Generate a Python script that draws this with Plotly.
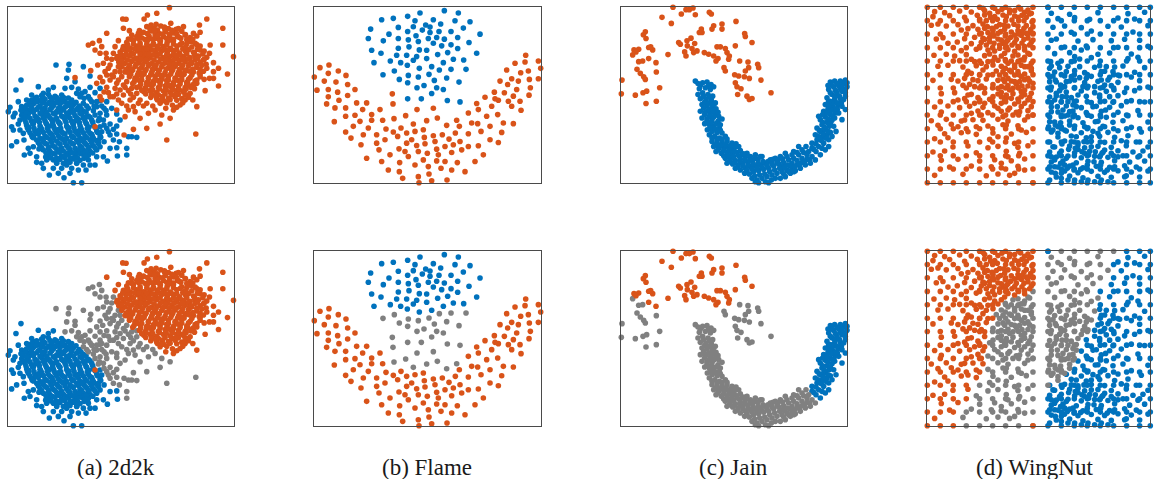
import plotly.graph_objects as go

BLUE = "#0072BD"
ORANGE = "#D95319"
GRAY = "#808080"

# All coordinates (panel-local units, y downward).
# ---------------- 2d2k ----------------
d2k_orange_orange = [
    (508,23),(470,40),(442,45),(432,57),(368,57),(378,58),(620,57),(370,85),(388,92),(453,75),(418,92),(668,85),
    (598,75),(528,88),(600,97),(320,100),(355,122),(385,117),(555,105),(630,135),(668,135),(700,170),(610,180),
    (585,170),(628,235),(682,222),(655,205),(640,235),(655,258),(615,272),(590,320),(578,300),(520,330),(555,300),
    (497,325),(345,140),(350,175),(550,80),(575,125),(600,150),(620,205),(590,250),(560,285),(285,380),
    (440,80),(462,84),(482,78),(505,86),
    (430,97),(455,93),(476,100),(496,95),(520,99),(545,94),
    (410,110),(426,114),(447,108),(466,115),(490,110),(511,116),(532,109),(570,113),(590,108),
    (380,127),(400,122),(420,129),(441,124),(460,130),(481,123),(501,128),(520,122),(545,129),(566,124),(585,130),
    (370,140),(391,145),(409,138),(431,144),(450,139),(471,146),(490,140),(511,145),(530,138),(551,144),(575,141),(600,138),
    (360,156),(378,152),(395,159),(412,153),(430,157),(448,151),(466,158),(484,153),(502,157),(520,152),(538,159),(556,154),(580,157),(612,153),
    (352,170),(370,174),(390,168),(410,175),(430,170),(450,174),(470,168),(490,173),(510,169),(530,175),(550,170),(570,173),(595,168),(620,172),
    (356,186),(375,190),(395,184),(415,189),(435,185),(455,191),(475,186),(495,189),(515,184),(535,190),(555,185),(575,190),(600,186),(640,188),
    (365,200),(385,204),(405,199),(425,203),(445,198),(465,205),(485,200),(505,204),(525,199),(545,203),(565,198),(590,202),
    (375,216),(395,212),(415,218),(435,213),(455,217),(475,212),(495,218),(515,214),(535,217),(555,212),(580,216),(610,214),
    (388,230),(405,234),(425,228),(445,233),(465,229),(485,235),(505,230),(525,234),(545,229),(570,233),(600,230),
    (402,246),(420,243),(440,248),(460,244),(480,247),(500,242),(520,248),(540,244),(560,247),(585,243),
    (418,260),(435,264),(455,259),(475,263),(495,258),(515,264),(535,260),(555,263),(575,258),
    (432,276),(450,272),(470,278),(490,273),(510,277),(530,272),(550,276),(570,280),
    (452,292),(470,296),(487,290),(505,294),(525,290),(545,296),(565,292),
    (480,310),(500,308),(540,315),
    (450,88),(472,90),(494,87),(515,91),(535,86),
    (420,103),(442,101),(465,105),(487,102),(508,104),(530,101),(556,104),(580,100),
    (395,118),(415,116),(436,119),(456,117),(478,119),(500,116),(520,118),(542,115),(560,119),(578,117),
    (382,134),(400,132),(420,135),(440,133),(460,134),(480,131),(500,135),(520,132),(540,134),(560,131),(590,134),
    (368,148),(386,150),(404,147),(421,149),(440,148),(458,150),(476,147),(494,149),(512,148),(530,150),(548,147),(566,149),(592,148),
    (362,163),(380,165),(400,162),(420,164),(440,163),(460,165),(480,162),(500,164),(520,163),(540,165),(560,162),(584,164),(608,162),
    (363,178),(382,180),(402,177),(422,179),(442,178),(462,180),(482,177),(502,179),(522,178),(542,180),(562,177),(585,179),(612,178),
    (368,193),(388,195),(408,192),(428,194),(448,193),(468,195),(488,192),(508,194),(528,193),(548,195),(568,192),(590,194),(618,193),
    (378,208),(398,210),(418,207),(438,209),(458,208),(478,210),(498,207),(518,209),(538,208),(558,210),(578,207),(600,209),
    (392,223),(412,225),(432,222),(452,224),(472,223),(492,225),(512,222),(532,224),(552,223),(575,225),(600,222),
    (405,238),(425,240),(445,237),(465,239),(485,238),(505,240),(525,237),(545,239),(565,238),(590,240),
    (422,253),(440,255),(460,252),(480,254),(500,253),(520,255),(540,252),(560,254),(580,253),
    (438,268),(458,270),(478,267),(498,269),(518,268),(538,270),(558,267),
    (455,283),(475,285),(495,282),(515,284),(535,283),(555,285),
    (472,300),(490,302),(510,299),(530,301),(550,300),
    (383,138),(417,147),(447,162),(473,139),(503,151),(527,166),(557,141),(583,161),(407,176),(437,181),(463,196),
    (497,181),(523,193),(547,178),(573,186),(393,207),(427,221),(457,211),(483,226),(517,206),(543,221),(567,213),
    (597,219),(413,239),(447,251),(473,241),(507,256),(533,241),(563,251),(437,282),(467,288),(497,267),(527,283),
    (553,271),(443,118),(473,107),(507,121),(537,112),(463,92),(493,81),(375,165),(365,183),(592,175),(605,196),
    (385,218),(398,251),(425,271),(583,266),(612,238),(482,301),(517,316),(548,308),(530,322),(468,73),(512,70),
    (415,100),(395,105),(628,160),(640,215),(572,262),
]
d2k_orange_gray = [
    (265,135),(298,122),(278,130),(300,160),(320,175),(330,195),(310,190),(293,195),(315,215),(272,212),(225,233),
    (330,240),(350,250),(345,215),(355,200),(360,270),(370,285),(390,300),(410,280),(420,300),(395,265),(380,245),
    (365,230),(340,290),(330,290),(305,300),(300,290),(350,330),(385,330),(420,355),(465,330),(485,345),(510,355),
    (480,372),(440,385),(400,388),(372,405),(500,420),(587,402),(440,310),(458,318),(400,320),(365,310),(320,262),
    (312,276),(290,250),(300,232),(335,225),(340,160),(335,178),(375,262),(392,282),(410,262),(430,318),(445,340),(375,350),
    (325,205),(340,230),(355,240),(370,255),(385,272),(400,292),(415,310),(350,282),(355,300),(380,318),(405,335),
    (320,225),(308,245),(325,278),(345,265),(360,215),(318,160),(285,150),(305,140),
]
d2k_blue_blue = [
    (63,240),(48,270),(115,260),(160,262),(25,335),(30,322),(45,340),(65,320),(35,380),(40,390),(35,437),(50,425),
    (73,465),(90,460),(100,440),(110,487),(130,505),(148,525),(175,520),(192,533),(210,520),(220,548),(245,548),
    (258,510),(310,470),(322,483),(352,468),(330,445),(350,443),(130,280),(105,295),(80,300),(85,330),(60,360),
    (70,400),(100,410),(140,480),(170,490),(200,495),(230,490),(265,480),(290,450),(285,495),(55,305),(40,350),
    (160,505),(235,510),
    (125,287),(145,283),(165,289),(185,285),
    (95,300),(115,304),(135,298),(155,303),(175,299),(195,305),(215,300),
    (80,316),(100,312),(120,318),(140,313),(160,317),(180,312),(200,318),(220,314),(238,318),
    (70,330),(90,334),(110,328),(130,333),(150,329),(170,335),(190,330),(210,334),(230,329),(250,333),
    (65,346),(85,342),(105,348),(125,343),(145,347),(165,342),(185,348),(205,343),(225,347),(245,343),(265,348),
    (75,360),(95,364),(115,358),(135,363),(155,359),(175,365),(195,360),(215,364),(235,358),(255,363),(275,360),
    (80,376),(100,372),(120,378),(140,373),(160,377),(180,372),(200,378),(220,374),(240,377),(260,372),(280,376),(300,380),
    (85,390),(105,394),(125,388),(145,393),(165,389),(185,395),(205,390),(225,394),(245,389),(265,393),(290,392),
    (95,406),(115,402),(135,408),(155,403),(175,407),(195,402),(215,408),(235,404),(255,407),(275,403),(300,408),
    (110,420),(130,424),(150,418),(170,423),(190,419),(210,425),(230,420),(250,424),(270,419),(290,423),(312,425),
    (120,436),(140,432),(160,438),(180,433),(200,437),(220,432),(240,438),(260,434),(280,437),(300,440),
    (130,450),(150,454),(170,448),(190,453),(210,449),(230,455),(250,450),(270,454),
    (145,466),(165,462),(185,468),(205,463),(225,467),(245,462),(265,466),
    (160,480),(180,478),(200,482),(220,477),(240,481),
    (110,292),(130,294),(150,291),(170,293),(190,292),(205,294),
    (88,308),(108,306),(128,309),(148,307),(168,308),(188,306),(208,309),(228,307),
    (75,323),(95,325),(115,322),(135,324),(155,323),(175,325),(195,322),(215,324),(235,323),
    (68,338),(80,340),(100,337),(120,339),(140,338),(160,340),(180,337),(200,339),(220,338),(240,340),(258,337),
    (70,353),(90,355),(110,352),(130,354),(150,353),(170,355),(190,352),(210,354),(230,353),(250,355),(270,352),
    (78,368),(98,370),(118,367),(138,369),(158,368),(178,370),(198,367),(218,369),(238,368),(258,370),(278,367),
    (82,383),(102,385),(122,382),(142,384),(162,383),(182,385),(202,382),(222,384),(242,383),(262,385),(285,382),
    (90,398),(110,400),(130,397),(150,399),(170,398),(190,400),(210,397),(230,399),(250,398),(270,400),(292,397),
    (100,413),(120,415),(140,412),(160,414),(180,413),(200,415),(220,412),(240,414),(260,413),(280,415),(302,412),
    (115,428),(135,430),(155,427),(175,429),(195,428),(215,430),(235,427),(255,429),(275,428),(295,430),
    (125,443),(145,445),(165,442),(185,444),(205,443),(225,445),(245,442),(265,444),(285,443),
    (138,458),(158,460),(178,457),(198,459),(218,458),(238,460),(258,457),(278,459),
    (152,473),(172,475),(192,472),(212,474),(232,473),(252,475),
    (170,488),(190,490),(210,487),(230,489),
    (93,318),(127,327),(153,312),(183,326),(213,318),(243,326),(77,352),(107,361),(137,349),(167,357),(197,351),
    (227,362),(257,352),(87,382),(117,391),(147,379),(177,388),(207,384),(237,392),(267,381),(97,411),(127,417),
    (157,409),(187,416),(217,411),(247,418),(277,409),(117,447),(147,441),(177,451),(207,444),(237,449),(267,442),
    (137,471),(167,476),(197,467),(227,474),(257,469),(123,301),(157,296),(187,297),(63,331),(55,372),(60,390),
    (72,420),(85,445),(295,420),(305,395),(110,470),(125,490),(185,505),(215,505),(250,495),(95,285),(145,270),
    (290,470),(270,495),
]
d2k_blue_gray = [
    (168,195),(207,193),(205,210),(250,200),(270,228),(200,235),(225,245),(195,265),(215,262),(235,267),(255,275),
    (240,290),(265,290),(285,278),(300,265),(275,305),(260,318),(290,320),(300,340),(320,345),(310,360),(330,372),
    (320,385),(340,388),(350,402),(330,405),(358,425),(380,445),(380,465),(395,410),(410,412),(385,410),(360,360),
    (350,342),(300,302),(280,332),(320,305),(335,325),(312,325),(270,262),(230,280),
    (250,310),(265,325),(285,345),(295,362),(312,375),(325,395),(340,420),(350,378),(270,298),(252,295),(245,280),
    (290,305),(305,318),(318,332),(298,355),(282,318),
]

# ---------------- Flame ----------------
flame_blue_blue = [
    (325,22),(372,22),(345,42),(418,35),(460,42),
    (230,62),(265,58),(308,52),(330,65),(385,62),(450,65),(407,75),(495,68),(362,78),
    (197,90),(280,85),(325,83),(352,93),(375,84),(402,97),(438,97),(475,87),(525,105),
    (190,118),(235,125),(252,105),(280,118),(308,97),(310,122),(333,110),(340,127),(370,118),(375,100),(395,115),
    (418,120),(458,115),(492,130),
    (200,153),(228,162),(280,147),(312,143),(343,152),(365,153),(385,132),(410,140),(438,137),(458,148),(515,162),
    (207,190),(256,185),(275,168),(287,190),(305,168),(325,183),(335,172),(365,178),(398,166),(428,160),(445,180),(476,182),
    (307,198),(343,207),(380,202),(415,190),
]
flame_blue_gray = [
    (234,226),(268,215),(310,228),(340,233),(372,225),(403,212),(438,210),(483,210),
    (283,240),(308,250),(357,258),(388,243),(425,236),(462,248),(336,265),
    (395,265),(415,270),(380,282),(308,298),(349,298),(427,303),(465,307),
]
flame_orange_gray = [
    (262,283),(264,313),(267,357),(302,348),(336,330),(385,326),(397,355),(455,362),(425,377),(325,373),(365,363),
]
flame_orange_orange = [
    (45,205),(72,197),(28,233),(70,222),(100,215),(123,228),(58,245),(93,248),(128,255),(36,272),(70,270),(98,278),
    (150,270),(70,292),(102,302),(128,288),(65,313),(90,325),(122,325),(155,310),(185,310),(173,330),(122,350),
    (150,347),(88,366),(165,365),(200,345),(225,330),(200,362),(145,380),(190,385),(122,397),(138,415),(175,405),
    (215,405),(243,388),(233,362),(288,385),(265,397),(240,420),(215,430),(168,435),(222,450),(185,475),(230,485),
    (255,465),(282,447),(305,430),(300,455),(278,410),(305,400),(463,380),(330,395),(358,413),(385,408),(412,405),
    (432,418),(451,400),(465,425),(490,402),(500,370),(490,340),(520,330),(540,293),(515,312),(545,350),(518,372),
    (528,395),(555,380),(555,420),(580,428),(590,398),(595,370),(578,345),(560,320),(580,302),(568,278),(598,280),
    (610,305),(620,320),(625,290),(645,305),(648,332),(625,372),(672,287),(676,265),(673,240),(700,238),(707,207),
    (700,185),(670,215),(660,188),(662,168),(630,192),(605,212),(647,220),(620,238),(640,245),(608,255),(585,245),
    (635,270),(570,298),
    (335,437),(360,432),(340,455),(367,460),(395,448),(390,425),(420,440),(440,458),(445,435),(470,450),(490,440),
    (520,438),(535,465),(510,485),(480,515),(457,488),(440,510),(426,540),(408,505),(380,542),(372,522),(340,530),
    (342,548),(293,535),(283,515),(250,510),(284,488),(310,470),(330,495),(355,480),(370,500),(395,483),(420,485),
    (400,465),(320,420),(355,390),
]

# ---------------- Jain ----------------
jain_orange_orange = [
    (183,25),(237,20),(243,27),(222,32),(208,45),(250,47),(292,40),(298,45),(150,55),(178,73),(268,90),(270,100),
    (305,80),(300,90),(330,75),(330,90),(372,67),(398,103),(400,112),(420,130),(100,98),(94,107),(102,118),(237,117),
    (225,125),(200,130),(248,133),(226,140),(240,148),(255,155),(218,158),(222,170),(277,160),(290,165),(305,170),
    (315,143),(325,143),(340,148),(345,160),(318,178),(350,180),(370,140),(66,152),(80,150),(110,145),(122,152),
    (116,143),(168,166),(110,178),(132,190),(262,100),(232,32),(205,135),(245,160),(312,185),(352,170),(72,158),
]
jain_orange_gray = [
    (62,167),(80,187),(92,185),(75,210),(85,222),(95,232),(100,240),(133,218),(30,242),(28,283),(70,287),(93,280),
    (104,275),(102,312),(133,305),(143,265),(383,185),(408,188),(437,195),(440,205),(410,205),(400,215),(380,230),
    (368,226),(397,232),(412,237),(447,242),(370,250),(375,262),(387,268),(377,285),(405,290),(412,300),(420,297),
    (477,280),(336,205),(340,215),
]
jain_blue_blue = [
    (605,448),(620,440),(635,430),(600,430),(615,420),(630,412),(645,405),(655,398),(610,405),(625,395),(640,388),
    (652,380),(615,385),(630,375),(645,368),(660,362),(625,360),(640,352),(655,345),(670,340),(635,335),(648,328),
    (662,322),(678,318),(640,315),(655,305),(668,300),(685,298),(645,295),(660,285),(675,280),(690,275),(650,270),
    (665,262),(680,258),(695,252),(705,262),(655,248),(668,245),(685,245),(700,242),(625,465),(640,450),(690,320),
    (700,290),(680,340),(665,380),(650,420),(620,350),(635,390),
    (600,445),(612,432),(628,422),(642,415),(618,410),(633,402),(648,395),(622,392),(637,382),(655,372),(668,355),
    (632,368),(648,358),(662,350),(676,330),(632,345),(645,340),(658,332),(672,328),(688,310),(650,318),(662,310),
    (675,310),(695,300),(650,305),(668,290),(682,290),(700,280),(655,280),(670,272),(685,268),(700,270),(660,258),
    (675,252),(690,260),(705,250),(648,258),(612,455),(630,445),(650,440),(660,410),(672,395),(690,360),(700,330),
]
jain_blue_gray = [
    (250,245),(258,252),(272,250),(285,248),(297,255),(262,268),(280,265),(295,270),(305,262),(258,285),(272,280),
    (288,285),(302,290),(265,298),(282,300),(298,302),(310,310),(270,315),(285,318),(300,322),(312,328),(265,335),
    (280,338),(295,342),(310,345),(320,350),(270,355),(285,358),(300,360),(318,365),(330,358),(278,372),(292,375),
    (305,380),(322,385),(286,390),(300,395),(315,398),(330,400),(292,405),(308,410),(322,415),(340,410),(300,425),
    (315,430),(330,428),(345,425),(360,430),(372,432),(305,440),(320,445),(335,442),(350,445),(365,448),(380,440),
    (312,455),(328,460),(345,458),(360,462),(375,458),(390,465),(405,460),(340,475),(355,478),(370,482),(385,478),
    (400,472),(415,470),(430,465),(345,490),(362,492),(378,495),(392,490),(408,488),(422,482),(438,478),(450,470),
    (370,505),(385,510),(400,505),(415,500),(430,498),(445,495),(460,490),(475,480),(490,475),(505,470),(398,520),
    (412,522),(425,515),(440,512),(455,508),(470,505),(485,498),(500,492),(515,488),(530,480),(545,475),(560,465),
    (575,458),(420,535),(435,540),(450,535),(465,530),(480,525),(495,520),(510,515),(525,510),(540,505),(555,495),
    (570,488),(585,478),(600,470),(440,548),(460,545),(478,540),(505,535),(520,530),(535,520),(550,512),(565,505),
    (580,495),(595,490),(610,480),(590,455),(560,440),(545,455),(520,460),
    (265,258),(290,258),(275,290),(293,293),(278,308),(292,310),(305,315),(275,325),(290,330),(305,333),(318,338),
    (278,345),(292,350),(305,352),(285,365),(298,368),(312,372),(325,375),(295,385),(310,388),(325,392),(300,415),
    (315,420),(330,418),(345,418),(310,435),(325,437),(340,435),(355,438),(370,440),(318,450),(335,452),(352,452),
    (368,455),(385,452),(335,468),(350,468),(365,470),(380,468),(395,462),(352,485),(368,487),(385,487),(400,482),
    (415,480),(430,475),(445,470),(378,500),(393,498),(408,497),(423,492),(438,490),(453,485),(468,485),(483,478),
    (498,480),(512,477),(525,470),(540,465),(555,458),(570,450),(582,440),(405,512),(420,508),(435,505),(450,502),
    (465,497),(480,492),(495,488),(510,500),(525,495),(540,490),(555,482),(570,475),(585,465),(428,528),(443,525),
    (458,522),(473,515),(488,510),(503,505),(518,503),(533,497),(548,500),(563,492),(578,485),(593,480),(430,545),
    (470,548),(490,535),(515,522),(530,515),(545,515),
]

# ---------------- WingNut ----------------
# sparse lattice
wn_left_cols = [28, 67, 106, 145, 185, 224, 263, 302, 345]
wn_right_cols = [390, 430, 469, 508, 547, 587, 626, 665, 697]
wn_rows = [22, 62, 102, 143, 183, 224, 264, 305, 345, 386, 426, 467, 507, 548]
wn_left_orange_count = [9, 9, 9, 8, 6, 6, 5, 5, 5, 5, 4, 4, 3, 3]   # lower row: orange columns from left
wn_right_gray_count = [6, 5, 5, 4, 4, 4, 4, 3, 3, 2, 1, 0, 0, 0]     # lower row: gray columns from left
wn_corner_orange = [(345, 548)]
wn_corner_blue = [(390, 22)]

wn_left_orange = [
    (50,35),(80,38),(125,33),(160,36),(200,32),(215,40),(240,35),(275,38),(290,32),(320,37),(335,42),
    (45,50),(95,47),(140,52),(178,46),(230,50),(255,45),(300,52),(312,46),
    (40,76),(60,72),(85,78),(120,74),(165,77),(195,72),(208,80),(245,74),(270,78),(288,73),(325,77),
    (130,90),(150,86),(225,91),(260,88),(300,92),(318,85),(338,89),
    (55,117),(75,113),(140,116),(170,112),(200,118),(215,113),(240,117),(278,112),(295,118),(330,114),
    (90,130),(118,126),(160,131),(190,127),(255,130),(265,125),(312,129),(340,127),
    (130,152),(175,148),(230,153),(270,149),(290,154),(320,150),
    (48,166),(85,163),(110,168),(145,164),(200,167),(215,162),(250,168),
    (125,182),(160,178),(240,181),
    (60,199),(90,196),(135,201),(175,197),(205,200),(225,195),
    (150,214),(195,210),
    (45,241),(100,238),(120,243),(165,239),(180,242),(205,237),
    (135,256),(155,253),(190,258),
    (70,281),(110,278),(160,283),(200,279),
    (140,296),(180,293),
    (50,321),(90,318),(125,323),(155,319),(195,322),
    (70,336),(180,333),
    (40,362),(85,358),(130,363),(165,359),(195,361),
    (60,376),(100,373),
    (80,401),(130,398),(175,403),
    (50,416),(90,413),
    (105,441),(150,438),
    (45,456),(80,453),
    (70,481),(120,478),
    (95,501),
    (50,526),
    (195,25),(252,28),(308,27),(330,30),(185,58),(205,62),(238,58),(282,60),(318,62),(342,66),(222,85),(248,95),
    (280,96),(332,100),(190,100),(210,98),(262,108),(310,106),(228,130),(282,135),(300,140),(245,145),(210,150),
    (260,160),(230,172),
    (200,45),(218,52),(265,50),(290,48),(325,52),(340,40),(200,85),(235,80),(258,75),(300,78),(312,95),(345,80),
    (195,115),(228,108),(250,120),(270,120),(290,128),(318,118),(335,135),(205,135),(245,135),(265,140),(320,140),
    (185,140),(215,125),(240,100),(290,105),(325,100),(180,88),(275,30),(230,25),(345,100),(345,120),
    (170,185),(190,190),(210,185),(160,220),(185,225),(210,225),(140,235),(170,260),(200,265),(150,285),(185,300),
    (170,310),(200,310),(120,300),(160,340),(190,345),(140,360),(175,380),(150,395),(120,380),
]
wn_left_gray = [
    (300,165),(335,163),(262,179),(280,183),(318,180),(250,199),(290,202),(310,196),(330,200),
    (235,213),(275,211),(300,215),(340,212),(240,241),(255,238),(280,243),(320,239),(335,244),
    (225,254),(270,257),(295,252),(312,258),(240,282),(250,277),(285,281),(320,284),
    (215,298),(265,294),(300,297),(335,292),(230,318),(275,324),(310,320),
    (210,338),(250,334),(295,337),(330,332),(240,358),(270,363),(320,360),
    (210,378),(255,374),(300,377),(225,399),(280,402),(325,397),(215,418),(265,414),
    (210,443),(240,439),(300,442),(330,437),(175,458),(265,454),
    (185,483),(230,479),(280,482),(320,477),(160,498),(250,503),(300,499),
    (135,523),(205,527),(240,522),(275,526),
    (320,172),(285,168),(270,190),(300,185),(340,190),(255,215),(290,225),(320,222),(245,225),
    (270,235),(305,245),(330,258),(240,265),(285,265),(310,275),(265,285),(330,300),(250,310),(290,312),(225,290),
    (330,160),(310,180),(290,195),(320,200),(340,205),(262,205),(280,215),(310,230),(330,235),(260,245),(290,245),
    (345,250),(250,260),(275,270),(300,262),(320,270),(340,280),(250,290),(280,295),(310,290),(260,300),(320,310),
    (340,320),(240,325),(270,330),(305,335),(285,345),(255,350),(330,350),(345,345),(265,375),(310,390),(240,410),
    (290,430),(270,470),(305,460),(250,490),(320,510),(220,500),(290,520),
]
wn_right_gray = [
    (400,40),(455,43),(540,38),(420,56),(470,53),(515,58),(405,82),(440,78),(490,83),(570,79),
    (460,97),(520,93),(400,121),(415,117),(480,123),(525,119),(440,141),(505,138),
    (410,161),(455,158),(540,163),(485,177),(520,173),(400,198),(425,203),(450,199),(530,202),
    (410,216),(470,212),(500,218),(395,231),(440,228),(485,233),(520,229),
    (415,246),(455,243),(500,248),(400,261),(430,258),(470,263),(510,259),
    (445,276),(490,273),(395,291),(415,288),(460,293),(430,306),(475,303),
    (400,321),(445,318),(420,336),(465,333),(395,351),(440,348),(410,366),(455,363),
    (430,381),(400,396),(420,411),
    (398,185),(420,190),(445,215),(395,245),(425,272),(410,300),(445,290),(400,335),(430,350),(420,380),
    (455,335),(440,260),(470,240),(405,228),(460,185),
    (395,205),(412,240),(428,255),(445,245),(460,230),(398,270),(415,280),(432,290),(450,305),(465,315),
    (400,308),(418,320),(435,330),(450,345),(465,350),(395,365),(412,375),(428,368),(440,390),(405,390),
    (420,400),(392,380),(455,375),(475,320),(480,285),(495,260),(505,235),(485,200),(470,170),(490,150),
]
wn_right_blue = [
    (630,41),(680,37),(600,54),(650,57),(610,81),(690,77),(645,96),(580,122),(620,118),(665,121),
    (600,142),(690,139),(575,159),(640,162),(630,176),(660,172),(545,197),(590,201),(615,198),(680,203),
    (560,214),(650,217),(575,232),(605,227),(640,231),(540,244),(600,247),(665,242),
    (555,262),(580,257),(690,261),(530,278),(565,274),(620,277),(650,272),
    (505,289),(545,292),(600,287),(520,308),(560,304),(585,307),(640,302),(680,306),
    (490,323),(535,319),(575,322),(610,317),(505,338),(550,334),(600,337),(660,332),
    (480,353),(520,349),(565,352),(630,347),(495,368),(540,364),(585,367),(615,362),(690,366),
    (470,378),(510,383),(555,379),(640,382),(445,393),(490,398),(525,394),(570,397),(600,392),(670,396),
    (460,408),(505,413),(545,409),(590,412),(630,407),
    (395,426),(440,423),(480,428),(520,424),(560,427),(610,422),(655,426),
    (410,441),(455,438),(500,443),(540,439),(580,442),(625,437),(690,441),
    (395,456),(430,453),(470,458),(515,454),(555,457),(600,452),(645,456),(675,453),
    (415,471),(450,468),(490,473),(530,469),(570,472),(615,467),(660,471),
    (400,486),(435,483),(475,488),(510,484),(550,487),(590,482),(635,486),(680,483),
    (420,501),(455,498),(495,503),(535,499),(575,502),(620,497),(655,501),
    (400,516),(440,513),(480,518),(520,514),(560,517),(600,512),(640,516),(690,513),
    (415,531),(455,528),(495,533),(540,529),(580,532),(625,527),(665,531),
    (405,440),(425,460),(445,475),(465,495),(410,500),(430,520),(470,540),(510,540),(550,540),(400,470),
    (440,495),(500,460),(520,440),(480,435),(560,450),(545,470),(580,460),(600,470),(590,500),(620,530),
    (530,260),(550,215),(570,240),(545,285),(525,320),(510,345),(500,380),(475,410),(540,400),(560,380),
    (432,432),(452,448),(472,445),(492,455),(512,465),(532,455),(552,460),(410,480),(428,490),(448,505),
    (468,510),(488,508),(508,495),(528,485),(548,495),(568,510),(395,500),(412,520),(430,535),(450,540),
    (490,545),(530,545),(570,545),(395,540),(532,365),(548,350),(563,330),(575,290),(588,270),(560,255),
    (550,240),(585,215),(600,225),(565,200),(520,410),(498,425),(460,425),(480,448),
]

captions = ["(a) 2d2k", "(b) Flame", "(c) Jain", "(d) WingNut"]

# build WingNut lattice groups from the read rows / columns
wn_grid_left_orange, wn_grid_left_gray = [], []
wn_grid_right_gray, wn_grid_right_blue = [], []
for r, yv in enumerate(wn_rows):
    for c, xv in enumerate(wn_left_cols):
        (wn_grid_left_orange if c < wn_left_orange_count[r] else wn_grid_left_gray).append((xv, yv))
    for c, xv in enumerate(wn_right_cols):
        (wn_grid_right_gray if c < wn_right_gray_count[r] else wn_grid_right_blue).append((xv, yv))

wn_L_or = wn_left_orange + wn_grid_left_orange
wn_L_gr = wn_left_gray + wn_grid_left_gray
wn_R_gr = wn_right_gray + wn_grid_right_gray
wn_R_bl = wn_right_blue + wn_grid_right_blue

# panels: (column, row, x-range, y-range, [(points, color), ...])
panels = [
    (0, 0, [25, 700], [548, 22], [(d2k_blue_blue + d2k_blue_gray, BLUE), (d2k_orange_orange + d2k_orange_gray, ORANGE)]),
    (1, 0, [28, 707], [548, 25], [(flame_blue_blue + flame_blue_gray, BLUE), (flame_orange_orange + flame_orange_gray, ORANGE)]),
    (2, 0, [27, 705], [548, 25], [(jain_blue_blue + jain_blue_gray, BLUE), (jain_orange_orange + jain_orange_gray, ORANGE)]),
    (3, 0, [28, 697], [548, 22], [(wn_R_bl + wn_R_gr + wn_corner_blue, BLUE), (wn_L_or + wn_L_gr + wn_corner_orange, ORANGE)]),
    (0, 1, [25, 700], [548, 22], [(d2k_blue_blue, BLUE), (d2k_blue_gray + d2k_orange_gray, GRAY), (d2k_orange_orange, ORANGE)]),
    (1, 1, [28, 707], [548, 25], [(flame_blue_blue, BLUE), (flame_blue_gray + flame_orange_gray, GRAY), (flame_orange_orange, ORANGE)]),
    (2, 1, [27, 705], [548, 25], [(jain_blue_blue, BLUE), (jain_blue_gray + jain_orange_gray, GRAY), (jain_orange_orange, ORANGE)]),
    (3, 1, [28, 697], [548, 22], [(wn_R_bl, BLUE), (wn_L_gr + wn_R_gr, GRAY), (wn_L_or, ORANGE), (wn_corner_orange, ORANGE), (wn_corner_blue, BLUE)]),
]

W, H = 1155, 479
col_px = [(8.3, 233.5), (314.3, 540.7), (621.0, 847.0), (927.3, 1150.3)]
row_px = [(7.3, 182.7), (251.3, 425.7)]

fig = go.Figure()
layout = dict(width=W, height=H, margin=dict(l=0, r=0, t=0, b=0),
              paper_bgcolor="white", plot_bgcolor="white", showlegend=False)

for i, (c, r, xr, yr, groups) in enumerate(panels):
    k = i + 1
    xa = "x" if k == 1 else f"x{k}"
    ya = "y" if k == 1 else f"y{k}"
    for pts, colr in groups:
        fig.add_trace(go.Scatter(
            x=[p[0] for p in pts], y=[p[1] for p in pts], mode="markers",
            marker=dict(color=colr, size=5.6, line=dict(width=0)),
            xaxis=xa, yaxis=ya, cliponaxis=False, hoverinfo="skip"))
    x0, x1 = col_px[c]
    y0, y1 = row_px[r]
    axstyle = dict(showline=True, mirror=True, linecolor="#4a4a4a", linewidth=1,
                   showticklabels=False, ticks="", showgrid=False, zeroline=False)
    layout["xaxis" if k == 1 else f"xaxis{k}"] = dict(
        domain=[x0 / W, x1 / W], range=xr, anchor=ya, **axstyle)
    layout["yaxis" if k == 1 else f"yaxis{k}"] = dict(
        domain=[1 - y1 / H, 1 - y0 / H], range=yr, anchor=xa, **axstyle)

caption_centers = [115.5, 427.0, 733.5, 1034.5]
annotations = []
for cx, txt in zip(caption_centers, captions):
    annotations.append(dict(text=txt, x=cx / W, y=1 - 467 / H, xref="paper", yref="paper",
                            showarrow=False, xanchor="center", yanchor="middle",
                            font=dict(family="Liberation Serif", size=23, color="#1a1a1a")))
layout["annotations"] = annotations
fig.update_layout(**layout)
fig.write_html("out.html", config={"displayModeBar": False},
               post_script="document.body.style.margin='0';")
